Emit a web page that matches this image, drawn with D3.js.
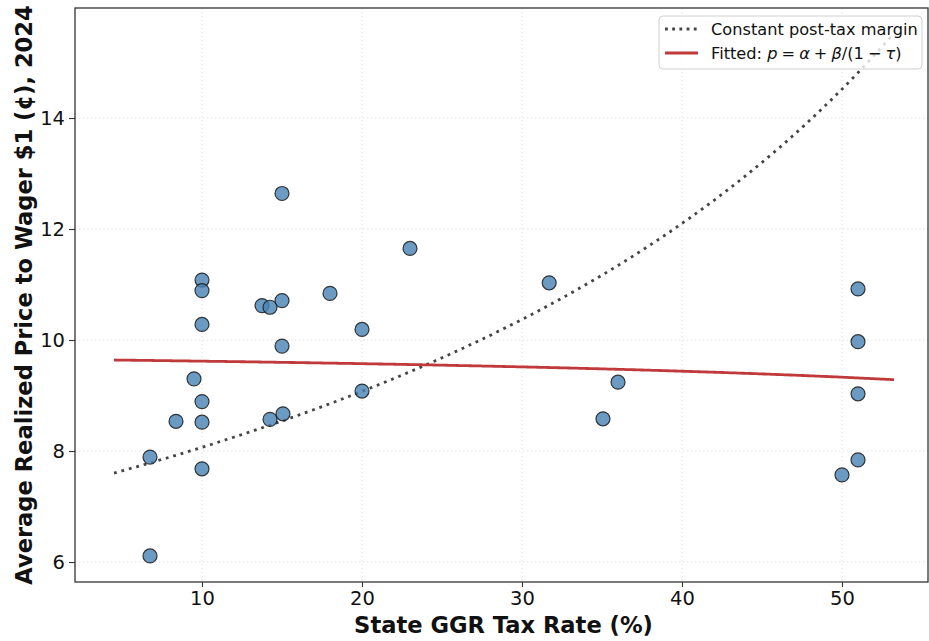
<!DOCTYPE html>
<html>
<head>
<meta charset="utf-8">
<script src="https://cdn.jsdelivr.net/npm/d3@7/dist/d3.min.js"></script>
<style>
  html, body { margin: 0; padding: 0; background: #fff; }
  svg { display: block; font-family: "DejaVu Sans", sans-serif; }
</style>
</head>
<body>
<svg id="chart" width="929" height="641"></svg>
<script>
// ---- Data ----
const taxRate = [6.75, 6.75, 8.375, 9.5, 10, 10, 10, 10, 10, 10,
                 13.75, 14.25, 15, 15, 15, 14.25, 15.06, 18, 20, 20,
                 23, 31.7, 35.06, 36, 51, 51, 51, 51, 50];
const price   = [6.11, 7.89, 8.535, 9.30, 11.08, 10.89, 10.28, 8.89, 8.52, 7.68,
                 10.62, 10.59, 10.71, 9.89, 12.64, 8.57, 8.67, 10.84, 10.19, 9.08,
                 11.65, 11.03, 8.58, 9.24, 10.92, 9.97, 9.03, 7.84, 7.57];
const xTicks = [10, 20, 30, 40, 50];
const yTicks = [6, 8, 10, 12, 14];
// model curves (parameters)
const fitAlpha = 9.98, fitBeta = -0.325;    // p = α + β/(1-τ)
const marginC = 7.26;                        // p = c/(1-τ)
const curveRange = [4.5, 53.25];

// ---- Layout ----
const svg = d3.select("#chart");
const L = 75, R = 928, T = 8, B = 582;
const x = d3.scaleLinear().domain([2.0625, 55.375]).range([L, R]);
const y = d3.scaleLinear().domain([5.640, 15.982]).range([B, T]);

// grid
const grid = svg.append("g");
grid.selectAll("line.gx").data(xTicks).join("line")
  .attr("x1", d => x(d)).attr("x2", d => x(d)).attr("y1", T).attr("y2", B)
  .attr("stroke", "#e2e2e2").attr("stroke-width", 1).attr("stroke-dasharray", "1.5,2.5");
grid.selectAll("line.gy").data(yTicks).join("line")
  .attr("y1", d => y(d)).attr("y2", d => y(d)).attr("x1", L).attr("x2", R)
  .attr("stroke", "#e2e2e2").attr("stroke-width", 1).attr("stroke-dasharray", "1.5,2.5");

// clip
svg.append("clipPath").attr("id", "clip").append("rect")
  .attr("x", L).attr("y", T).attr("width", R - L).attr("height", B - T);

// curves
const taus = d3.range(0, 301).map(i => curveRange[0] + (curveRange[1] - curveRange[0]) * i / 300);
const line = d3.line().x(d => x(d[0])).y(d => y(d[1]));
const plot = svg.append("g").attr("clip-path", "url(#clip)");
plot.append("path")
  .datum(taus.map(t => [t, marginC / (1 - t / 100)]))
  .attr("d", line).attr("fill", "none")
  .attr("stroke", "#444").attr("stroke-width", 2.8).attr("stroke-dasharray", "2.8,4.9");
plot.append("path")
  .datum(taus.map(t => [t, fitAlpha + fitBeta / (1 - t / 100)]))
  .attr("d", line).attr("fill", "none")
  .attr("stroke", "#c0393b").attr("stroke-width", 2.8);

// points
plot.selectAll("circle").data(taxRate.map((t, i) => [t, price[i]])).join("circle")
  .attr("cx", d => x(d[0])).attr("cy", d => y(d[1])).attr("r", 7)
  .attr("fill", "steelblue").attr("fill-opacity", 0.8)
  .attr("stroke", "#1a1a1a").attr("stroke-opacity", 0.85).attr("stroke-width", 1.2);

// axes
const xAxis = svg.append("g").attr("transform", `translate(0,${B})`)
  .call(d3.axisBottom(x).tickValues(xTicks).tickSize(5).tickPadding(4));
const yAxis = svg.append("g").attr("transform", `translate(${L},0)`)
  .call(d3.axisLeft(y).tickValues(yTicks).tickSize(6).tickPadding(4));
[xAxis, yAxis].forEach(a => {
  a.select(".domain").remove();
  a.selectAll("line").attr("stroke", "#333").attr("stroke-width", 1.1);
  a.selectAll("text").attr("fill", "#111").style("font-size", "19.5px")
    .style("font-family", "DejaVu Sans");
});
// frame
svg.append("rect").attr("x", L).attr("y", T).attr("width", R - L).attr("height", B - T)
  .attr("fill", "none").attr("stroke", "#333").attr("stroke-width", 1.3);

// axis titles
svg.append("text").attr("x", (L + R) / 2 + 2).attr("y", 633).attr("text-anchor", "middle")
  .style("font-size", "22.6px").style("font-weight", "bold").attr("fill", "#111")
  .text("State GGR Tax Rate (%)");
svg.append("text").attr("transform", `translate(32,${(T + B) / 2}) rotate(-90)`)
  .attr("text-anchor", "middle")
  .style("font-size", "22.6px").style("font-weight", "bold").attr("fill", "#111")
  .text("Average Realized Price to Wager $1 (¢), 2024");

// legend
const lg = svg.append("g");
lg.append("rect").attr("x", 659).attr("y", 16).attr("width", 263).attr("height", 53)
  .attr("rx", 4).attr("fill", "#fff").attr("fill-opacity", 0.8)
  .attr("stroke", "#d0d0d0").attr("stroke-width", 1);
lg.append("line").attr("x1", 665).attr("x2", 698).attr("y1", 29).attr("y2", 29)
  .attr("stroke", "#444").attr("stroke-width", 2.8).attr("stroke-dasharray", "2.8,4.4");
lg.append("line").attr("x1", 665).attr("x2", 698).attr("y1", 53).attr("y2", 53)
  .attr("stroke", "#c0393b").attr("stroke-width", 2.8);
lg.append("text").attr("x", 711).attr("y", 35).style("font-size", "16.2px").attr("fill", "#111")
  .text("Constant post-tax margin");
const t2 = lg.append("text").attr("x", 711).attr("y", 59).style("font-size", "16.2px").attr("fill", "#111");
[["Fitted: ", false], ["p", true], ["\u2005=\u2005", false], ["α", true], ["\u2005+\u2005", false], ["β", true],
 ["/(1\u2005−\u2005", false], ["τ", true], [")", false]].forEach(([s, it]) => {
  t2.append("tspan").style("font-style", it ? "italic" : "normal").text(s);
});
</script>
</body>
</html>
